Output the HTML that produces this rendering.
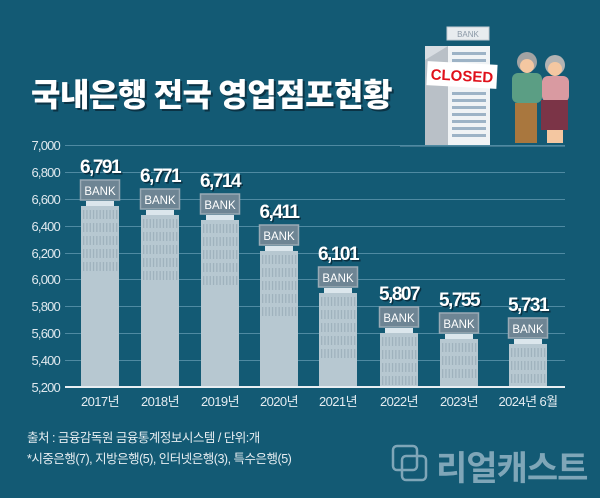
<!DOCTYPE html>
<html><head><meta charset="utf-8"><style>
html,body{margin:0;padding:0;background:#135a74;}
svg{display:block;font-family:"Liberation Sans","Noto Sans CJK KR",sans-serif;}
</style></head><body>
<svg width="600" height="498" viewBox="0 0 600 498" xmlns="http://www.w3.org/2000/svg">
<rect width="600" height="498" fill="#135a74"/>
<text x="31" y="106" font-size="32" font-weight="900" fill="#0b3345" font-family="Noto Sans CJK KR, sans-serif" transform="translate(2,2)" letter-spacing="-0.5">국내은행 전국 영업점포현황</text>
<text x="31" y="106" font-size="32" font-weight="900" fill="#ffffff" font-family="Noto Sans CJK KR, sans-serif" letter-spacing="-0.5">국내은행 전국 영업점포현황</text>
<rect x="425" y="46" width="64" height="100" fill="#d8dde2"/>
<polygon points="425,60 448,46 448,146 425,146" fill="#b9c0c7"/>
<rect x="448" y="46" width="42" height="100" fill="#f0f3f5"/>
<g fill="#9db3c6">
<rect x="452" y="52" width="34" height="3"/><rect x="452" y="59" width="34" height="3"/><rect x="452" y="66" width="34" height="3"/><rect x="452" y="92" width="34" height="3"/><rect x="452" y="99" width="34" height="3"/><rect x="452" y="106" width="34" height="3"/><rect x="452" y="113" width="34" height="3"/><rect x="452" y="120" width="34" height="3"/><rect x="452" y="127" width="34" height="3"/><rect x="452" y="134" width="34" height="3"/></g>
<rect x="447" y="27" width="42" height="13" fill="#e8ecef" stroke="#c4ccd3"/>
<text x="468" y="37" font-size="8" fill="#8a98a6" text-anchor="middle">BANK</text>
<rect x="427" y="63" width="70" height="24" fill="#fff" transform="rotate(3 462 75)"/>
<text x="462" y="81" font-size="15" font-weight="bold" fill="#e0101a" text-anchor="middle" transform="rotate(3 462 75)">CLOSED</text>
<rect x="400" y="145" width="165" height="2" fill="#3f7890"/>
<circle cx="527" cy="62" r="10" fill="#a3a3a3"/><circle cx="527" cy="66" r="7" fill="#f4c7a1"/>
<rect x="512" y="73" width="30" height="30" rx="6" fill="#5b9e84"/>
<rect x="515" y="103" width="22" height="40" fill="#a9773e"/>
<circle cx="555" cy="65" r="10" fill="#b3b3b3"/><circle cx="555" cy="69" r="7" fill="#f4c7a1"/>
<rect x="542" y="76" width="27" height="26" rx="6" fill="#d99aa1"/>
<rect x="541" y="100" width="27" height="30" fill="#7b3447"/>
<rect x="547" y="130" width="16" height="13" fill="#f4c7a1"/>
<g stroke="#4f8aa2" stroke-width="1">
<line x1="65" y1="145.5" x2="565" y2="145.5"/><line x1="65" y1="172.5" x2="565" y2="172.5"/><line x1="65" y1="199.5" x2="565" y2="199.5"/><line x1="65" y1="226.5" x2="565" y2="226.5"/><line x1="65" y1="253.5" x2="565" y2="253.5"/><line x1="65" y1="279.5" x2="565" y2="279.5"/><line x1="65" y1="306.5" x2="565" y2="306.5"/><line x1="65" y1="333.5" x2="565" y2="333.5"/><line x1="65" y1="360.5" x2="565" y2="360.5"/></g>
<g font-size="13" fill="#dfe8ee" text-anchor="end" letter-spacing="-0.8">
<text x="60" y="150">7,000</text><text x="60" y="177">6,800</text><text x="60" y="204">6,600</text><text x="60" y="231">6,400</text><text x="60" y="258">6,200</text><text x="60" y="284">6,000</text><text x="60" y="311">5,800</text><text x="60" y="338">5,600</text><text x="60" y="365">5,400</text><text x="60" y="392">5,200</text></g>
<g id="bars"></g>
<line x1="65" y1="387" x2="565" y2="387" stroke="#e8eef2" stroke-width="2"/>
<g font-size="13" fill="#e4ecf1" text-anchor="middle" letter-spacing="-0.6">
<text x="100" y="406">2017년</text><text x="160" y="406">2018년</text><text x="220" y="406">2019년</text><text x="279" y="406">2020년</text><text x="338" y="406">2021년</text><text x="399" y="406">2022년</text><text x="459" y="406">2023년</text><text x="528" y="406">2024년 6월</text></g>
<text x="27" y="442" font-size="12.5" fill="#e6edf1" letter-spacing="-0.5">출처 : 금융감독원 금융통계정보시스템 / 단위:개</text>
<text x="27" y="463" font-size="12.5" fill="#e6edf1" letter-spacing="-0.5">*시중은행(7), 지방은행(5), 인터넷은행(3), 특수은행(5)</text>
<rect x="393" y="446" width="24" height="24" rx="4" fill="none" stroke="#7fa6b8" stroke-width="2.5"/>
<rect x="402" y="456" width="24" height="24" rx="4" fill="none" stroke="#7fa6b8" stroke-width="2.5"/>
<text x="436" y="480" font-size="34" font-weight="bold" fill="#7fa6b8" letter-spacing="-1" font-family="Noto Sans CJK KR, sans-serif">리얼캐스트</text>
</svg>
<script>
var d=[[100,206,"6,791"],[160,215,"6,771"],[220,220,"6,714"],[279,251,"6,411"],[338,293,"6,101"],[399,333,"5,807"],[459,339,"5,755"],[528,344,"5,731"]];
var g=document.getElementById('bars'),s='';
d.forEach(function(b){var x=b[0]-19,t=b[1];
s+='<rect x="'+x+'" y="'+t+'" width="38" height="'+(386-t)+'" fill="#b7c8d1"/>';
for(var i=0;i<5;i++){var yy=t+4+i*13;if(yy+9<386){for(var k=0;k<11;k++)s+='<rect x="'+(x+2+k*3.3)+'" y="'+yy+'" width="1.3" height="9" fill="#9fb2bd"/>';}}
s+='<rect x="'+(x+5)+'" y="'+(t-5)+'" width="28" height="5" fill="#dbe6ec"/>';
s+='<rect x="'+(x-0.5)+'" y="'+(t-26)+'" width="39" height="20" fill="#6e8594" stroke="#9aaab5" stroke-width="1.5"/>';
s+='<text x="'+b[0]+'" y="'+(t-11)+'" font-size="11.5" fill="#fff" text-anchor="middle">BANK</text>';
s+='<text x="'+(b[0]+1.5)+'" y="'+(t-31.5)+'" font-size="19" font-weight="bold" fill="#0a2f40" text-anchor="middle" letter-spacing="-1.5">'+b[2]+'</text>';
s+='<text x="'+b[0]+'" y="'+(t-33)+'" font-size="19" font-weight="bold" fill="#fff" text-anchor="middle" letter-spacing="-1.5">'+b[2]+'</text>';});
g.innerHTML=s;
</script>
</body></html>
